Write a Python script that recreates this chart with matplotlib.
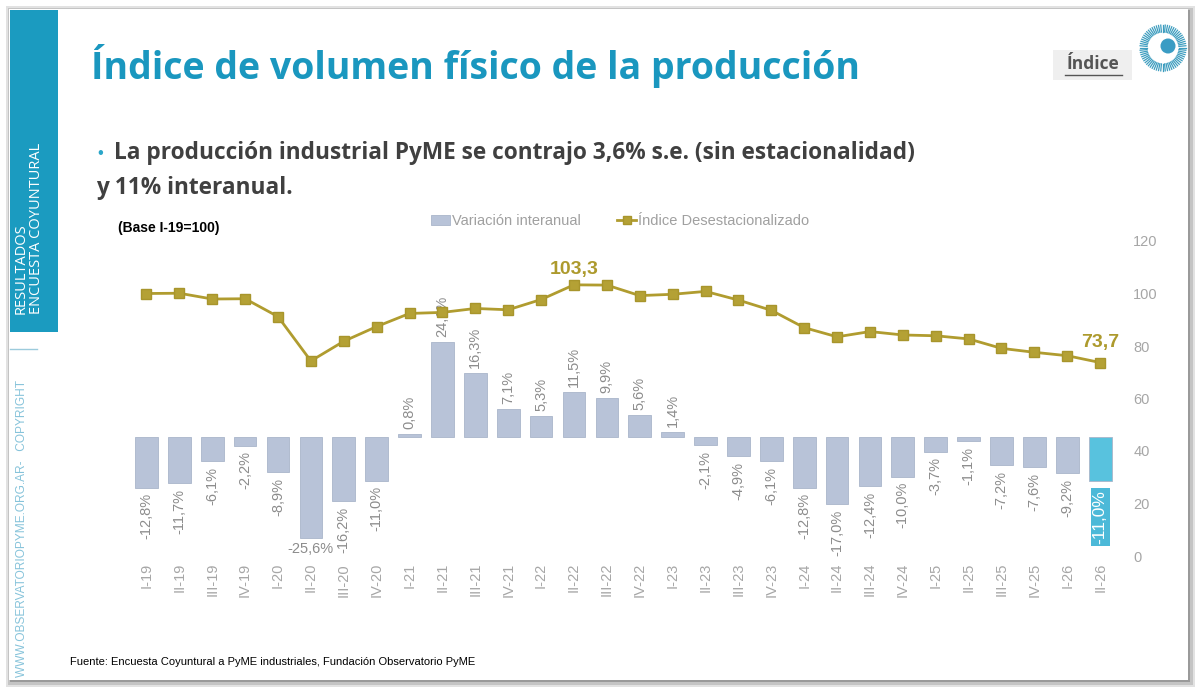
import matplotlib
matplotlib.use('Agg')
import matplotlib.pyplot as plt
from matplotlib.patches import Rectangle, Circle, Patch
from matplotlib.lines import Line2D
import numpy as np

plt.rcParams['font.family'] = ['Liberation Sans', 'DejaVu Sans']

# datos
trimestres = ['I-19', 'II-19', 'III-19', 'IV-19',
              'I-20', 'II-20', 'III-20', 'IV-20',
              'I-21', 'II-21', 'III-21', 'IV-21',
              'I-22', 'II-22', 'III-22', 'IV-22',
              'I-23', 'II-23', 'III-23', 'IV-23',
              'I-24', 'II-24', 'III-24', 'IV-24',
              'I-25', 'II-25', 'III-25', 'IV-25',
              'I-26', 'II-26']
variacion = [-12.8, -11.7, -6.1, -2.2, -8.9, -25.6, -16.2, -11.0,
             0.8, 24.1, 16.3, 7.1, 5.3, 11.5, 9.9, 5.6,
             1.4, -2.1, -4.9, -6.1, -12.8, -17.0, -12.4, -10.0,
             -3.7, -1.1, -7.2, -7.6, -9.2, -11.0]
indice = [100.0, 100.1, 97.9, 98.0, 91.2, 74.3, 81.8, 87.4,
          92.4, 92.8, 94.3, 93.8, 97.7, 103.3, 103.2, 99.2,
          99.7, 100.8, 97.5, 93.6, 87.0, 83.5, 85.5, 84.2,
          83.9, 82.7, 79.1, 77.6, 76.3, 73.7]
etiquetas_indice = {13: '103,3', 29: '73,7'}

W, H = 1200, 691
TEAL = '#1a97bf'
BAR = '#b8c3d8'
BAR_LAST = '#58c2de'
OLIVE = '#b09c2f'
GRAY_TXT = '#8c8c8c'

fig = plt.figure(figsize=(12, 6.91), dpi=100)

# fondo / diapositiva en coordenadas de pixel
bg = fig.add_axes([0, 0, 1, 1], zorder=-5)
bg.set_xlim(0, W)
bg.set_ylim(H, 0)
bg.axis('off')
bg.add_patch(Rectangle((6, 6), 1189, 681, color='#e2e2e2', lw=0))
bg.add_patch(Rectangle((8, 8), 1185, 677, color='#c4c4c4', lw=0))
bg.add_patch(Rectangle((10, 10), 1180, 672, color='#9a9a9a', lw=0))
bg.add_patch(Rectangle((9, 9), 1179, 671, color='white', lw=0))

# barra lateral
bg.add_patch(Rectangle((10, 10), 48, 322, color='#1b9bc0', lw=0))
bg.text(21, 314, 'RESULTADOS', rotation=90, ha='center', va='bottom',
        color='white', fontsize=10.5, family='Open Sans')
bg.text(37, 314, 'ENCUESTA COYUNTURAL', rotation=90, ha='center', va='bottom',
        color='white', fontsize=10.5, family='Open Sans')
bg.plot([10, 37], [349, 349], color='#9ccbdc', lw=1)
bg.text(22, 677, 'WWW.OBSERVATORIOPYME.ORG.AR-   COPYRIGHT', rotation=90,
        ha='center', va='bottom', color='#86c3da', fontsize=8.6)

# titulo y texto
bg.text(91, 66, 'Índice de volumen físico de la producción', ha='left', va='center',
        color=TEAL, fontsize=27, fontweight='bold', family='Open Sans')
bg.text(100, 153, '•', ha='center', va='center', color='#2aa6c9', fontsize=12)
bg.text(114, 153, 'La producción industrial PyME se contrajo 3,6% s.e. (sin estacionalidad)',
        ha='left', va='center', color='#404040', fontsize=16.3, fontweight='bold',
        family='Open Sans')
bg.text(96, 188, 'y 11% interanual.', ha='left', va='center', color='#404040',
        fontsize=16.3, fontweight='bold', family='Open Sans')

# boton Indice
bg.add_patch(Rectangle((1053, 50), 79, 30, color='#efefef', lw=0))
bg.text(1093, 64, 'Índice', ha='center', va='center', color='#555555',
        fontsize=12.5, fontweight='bold', family='Open Sans')
bg.plot([1065, 1122], [75, 75], color='#555555', lw=1)

# logo
cx, cy = 1163, 48
for a in np.linspace(0, 2 * np.pi, 64, endpoint=False):
    bg.plot([cx + 16 * np.cos(a), cx + 23 * np.cos(a)],
            [cy + 16 * np.sin(a), cy + 23 * np.sin(a)], color='#3d9dbf', lw=0.9)
bg.add_patch(Circle((cx + 5, cy - 2), 7.5, color='#3a9cc4', lw=0))

bg.text(118, 228, '(Base I-19=100)', ha='left', va='center', color='black',
        fontsize=10, fontweight='bold')
bg.text(70, 662, 'Fuente: Encuesta Coyuntural a PyME industriales, Fundación Observatorio PyME',
        ha='left', va='center', color='black', fontsize=8)

# grafico
x = np.arange(len(trimestres))
left, right, top, bottom = 130, 1116.6, 241, 556
ax = fig.add_axes([left / W, 1 - bottom / H, (right - left) / W, (bottom - top) / H])
ax.patch.set_visible(False)
colores = [BAR] * (len(x) - 1) + [BAR_LAST]
ax.bar(x, variacion, width=0.69, color=colores, edgecolor='#a9b5ca', linewidth=0.6)
ax.set_xlim(-0.5, len(x) - 0.5)
ax.set_ylim(-30.1, 49.6)
ax.set_yticks([])
ax.set_xticks(x)
ax.set_xticklabels(trimestres, rotation=90, fontsize=10.5, color='#a6a6a6')
ax.tick_params(axis='x', length=0, pad=5)
for s in ax.spines.values():
    s.set_visible(False)

for i, v in enumerate(variacion):
    txt = f'{v:.1f}%'.replace('.', ',')
    if i == len(x) - 1:
        ax.annotate(txt, (i, v), xytext=(0, -7), textcoords='offset points',
                    ha='center', va='top', rotation=90, fontsize=12.5, color='white',
                    bbox=dict(boxstyle='square,pad=0.12', fc='#4cb9d8', ec='none'))
    elif i == 5:
        ax.annotate(txt, (i, v), xytext=(0, -3), textcoords='offset points',
                    ha='center', va='top', fontsize=10.5, color=GRAY_TXT)
    elif v < 0:
        ax.annotate(txt, (i, v), xytext=(0, -4), textcoords='offset points',
                    ha='center', va='top', rotation=90, fontsize=10.5, color=GRAY_TXT)
    else:
        ax.annotate(txt, (i, v), xytext=(0, 3.5), textcoords='offset points',
                    ha='center', va='bottom', rotation=90, fontsize=10.5, color=GRAY_TXT)

ax2 = ax.twinx()
ax2.plot(x, indice, color=OLIVE, lw=2, marker='s', ms=7, mfc='#b4a135', mec='#a8952c')
ax2.set_ylim(0, 120)
ax2.set_yticks(range(0, 121, 20))
ax2.tick_params(axis='y', length=0, pad=12, labelsize=10.5, labelcolor='#a6a6a6')
for s in ax2.spines.values():
    s.set_visible(False)
for i, t in etiquetas_indice.items():
    off = 5 if i == 13 else 8
    ax2.annotate(t, (i, indice[i]), xytext=(0, off), textcoords='offset points',
                 ha='center', va='bottom', fontsize=14, fontweight='bold', color='#ad9a2d')

handles = [Patch(fc=BAR, ec='#a9b5ca', lw=0.6),
           Line2D([], [], color=OLIVE, lw=2, marker='s', ms=6, mfc='#b4a135', mec='#a8952c')]
fig.legend(handles, ['Variación interanual', 'Índice Desestacionalizado'],
           loc='center', bbox_to_anchor=(620 / W, 1 - 221 / H), ncol=2, frameon=False,
           fontsize=10.5, labelcolor='#a0a0a0', handlelength=1.3, handletextpad=0.15,
           columnspacing=2.5)

fig.savefig('out.png', dpi=100)
